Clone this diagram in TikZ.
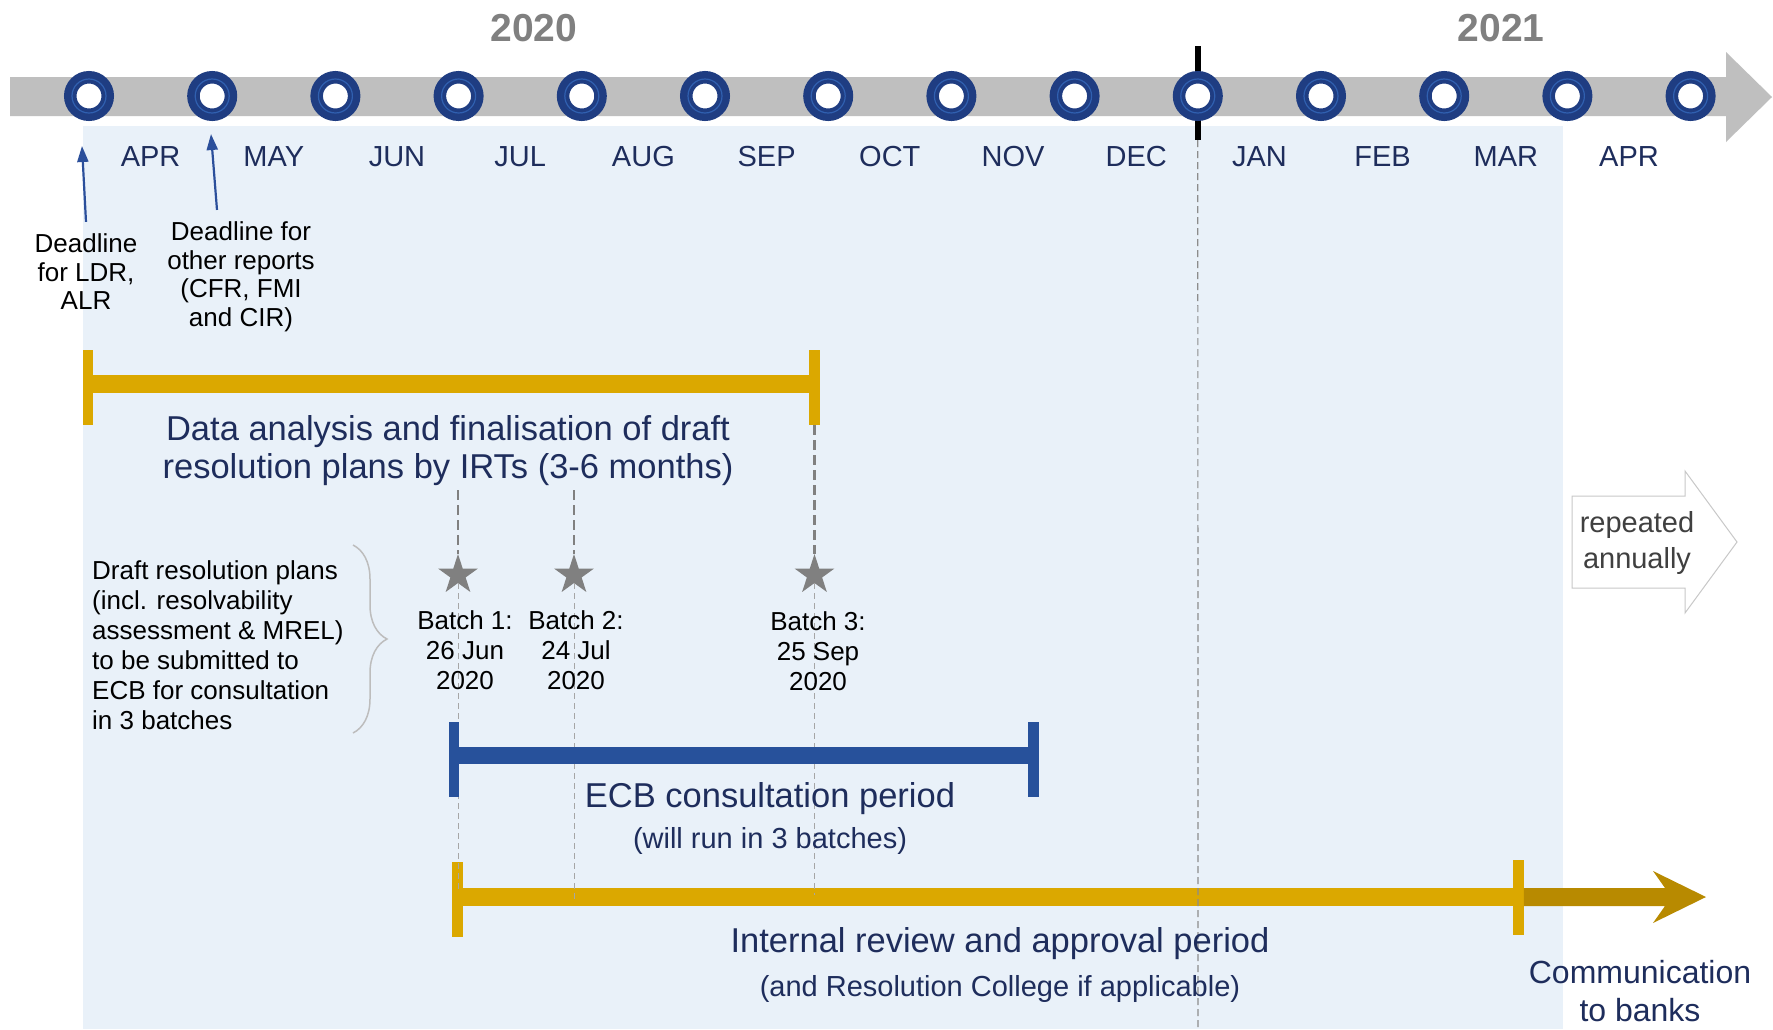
\documentclass[tikz,border=0pt]{standalone}
\usepackage{fontspec}
\setmainfont{Liberation Sans}
\usetikzlibrary{shapes.geometric,arrows.meta,decorations.pathreplacing}
\definecolor{barGray}{HTML}{BFBFBF}
\definecolor{ringBlue}{HTML}{1F3D82}
\definecolor{ringLight}{HTML}{3060B0}
\definecolor{bgBlue}{HTML}{E9F1F9}
\definecolor{goldA}{HTML}{DBA800}
\definecolor{goldB}{HTML}{B88A00}
\definecolor{barBlue}{HTML}{27519B}
\definecolor{navy}{HTML}{1E2D5C}
\definecolor{yearGray}{HTML}{808080}
\definecolor{starGray}{HTML}{808080}
\definecolor{thinGray}{HTML}{A6A6A6}
\definecolor{decGray}{HTML}{8C8C8C}
\definecolor{arrowBlue}{HTML}{2B4F9B}
\definecolor{textGray}{HTML}{404040}
\definecolor{outlineGray}{HTML}{C8C8C8}
\definecolor{braceGray}{HTML}{BDBDBD}
\begin{document}
\begin{tikzpicture}[x=1pt,y=-1pt,
  month/.style={font=\fontsize{29}{34}\selectfont, text=navy, inner sep=0pt},
  yearlbl/.style={font=\fontsize{39}{44}\selectfont\bfseries, text=yearGray, inner sep=0pt},
  note/.style={font=\fontsize{26}{28.5}\selectfont, align=center, inner sep=0pt},
  leftnote/.style={font=\fontsize{26}{30}\selectfont, align=left, inner sep=0pt, anchor=west},
  bigtitle/.style={font=\fontsize{34.5}{38}\selectfont, text=navy, align=center, inner sep=0pt},
  subtitle/.style={font=\fontsize{29}{34}\selectfont, text=navy, inner sep=0pt},
  batchlbl/.style={font=\fontsize{26}{30}\selectfont, align=center, inner sep=0pt},
  commlbl/.style={font=\fontsize{32}{38}\selectfont, text=navy, align=center, inner sep=0pt},
  replbl/.style={font=\fontsize{29}{36}\selectfont, text=textGray, align=center, inner sep=0pt},
  ring/.style={circle, fill=white, draw=ringBlue, line width=12.5pt, minimum size=37.5pt, inner sep=0pt, outer sep=0pt},
  goldtick/.style={rectangle, fill=goldA, minimum width=10.5pt, minimum height=75pt, inner sep=0pt, outer sep=0pt},
  bluetick/.style={rectangle, fill=barBlue, minimum width=10.5pt, minimum height=75pt, inner sep=0pt, outer sep=0pt},
  goldbar/.style={draw=goldA, line width=18pt},
  bluebar/.style={draw=barBlue, line width=17pt},
  dlarrow/.style={draw=arrowBlue, line width=2.2pt, -{Triangle[length=16pt,width=11pt]}},
  dashthick/.style={draw=starGray, line width=2.5pt, dash pattern=on 10pt off 5pt},
  dashthin/.style={draw=thinGray, line width=1pt, dash pattern=on 6pt off 4pt},
  decdash/.style={draw=decGray, line width=1.2pt, dash pattern=on 7pt off 4pt},
  batchstar/.style={star, star points=5, star point ratio=2.618, fill=starGray, minimum size=42pt, inner sep=0pt, outer sep=0pt},
]
\useasboundingbox (0,0) rectangle (1773,1029);
\fill[white] (0,0) rectangle (1773,1029);
\fill[bgBlue] (83,126) rectangle (1563,1029);

% timeline bar
\fill[barGray] (10,77) -- (1726,77) -- (1726,52) -- (1772,97) -- (1726,142) -- (1726,116) -- (10,116) -- cycle;
\draw[black, line width=6pt] (1198,46) -- (1198,140);
\foreach \k in {0,...,13} {
  \node[ring] (c\k) at ({89+123.2*\k},96) {};
  \draw[ringLight, line width=1.2pt] (c\k.center) circle[radius=17pt];
}
\foreach \m [count=\i from 0] in {APR,MAY,JUN,JUL,AUG,SEP,OCT,NOV,DEC,JAN,FEB,MAR,APR} {
  \node[month] (mo\i) at ({150.6+123.2*\i},157) {\m};
}
\node[yearlbl] (y2020) at (534,28) {2020};
\node[yearlbl] (y2021) at (1501,28) {2021};

% deadlines
\node[note] (dl1) at (86,272) {Deadline\\for LDR,\\ALR};
\node[note] (dl2) at (241,277) {Deadline for\\other reports\\(CFR, FMI\\and CIR)};
\coordinate (dl1tip) at (82,146);
\coordinate (dl2tip) at (211,134);
\draw[dlarrow] ([yshift=12pt]dl1.north) -- (dl1tip);
\draw[dlarrow] ([xshift=-24pt,yshift=12pt]dl2.north) -- (dl2tip);

% data analysis bar
\node[goldtick] (g1l) at (88,387.5) {};
\node[goldtick] (g1r) at (814.5,387.5) {};
\draw[goldbar] (g1l.east |- 0,384) -- (g1r.west |- 0,384);
\node[bigtitle] (t1) at (448,451) {Data analysis and finalisation of draft\\resolution plans by IRTs (3-6 months)};

% batches
\node[batchstar] (s1) at (458,575) {};
\node[batchstar] (s2) at (574,575) {};
\node[batchstar] (s3) at (814.5,575) {};
\coordinate (b1top) at (458,490);
\coordinate (b2top) at (574,490);
\draw[dashthick] (b1top) -- (s1.north);
\draw[dashthick] (b2top) -- (s2.north);
\draw[dashthick] (g1r.south) -- (s3.north);

% internal review bar
\node[goldtick] (g2l) at (457.5,899.5) {};
\node[goldtick] (g2r) at (1518.5,897.5) {};
\draw[goldbar] (g2l.east |- 0,897) -- (g2r.west |- 0,897);
\fill[goldB] (g2r.east |- 0,888) -- (1665,888) -- (1653,871) -- (1706,897) -- (1653,923) -- (1665,906) -- (g2r.east |- 0,906) -- cycle;

% thin dashed guides
\coordinate (b1bot) at (458,890);
\coordinate (b2bot) at (574,900);
\coordinate (b3bot) at (814.5,895);
\draw[dashthin] (s1.south) -- (b1bot);
\draw[dashthin] (s2.south) -- (b2bot);
\draw[dashthin] (s3.south) -- (b3bot);
\coordinate (decbot) at (1198,1029);
\draw[decdash] (c9.south |- 0,140) -- (decbot);

% ECB bar
\node[bluetick] (bl) at (454,759.5) {};
\node[bluetick] (br) at (1033.5,759.5) {};
\draw[bluebar] (bl.east |- 0,755) -- (br.west |- 0,755);

% texts
\node[batchlbl] (bt1) at (465,650) {Batch 1:\\26 Jun\\2020};
\node[batchlbl] (bt2) at (576,650) {Batch 2:\\24 Jul\\2020};
\node[batchlbl] (bt3) at (818,651) {Batch 3:\\25 Sep\\2020};
\node[leftnote] (drafts) at (92,645) {Draft resolution plans\\(incl. resolvability\\assessment \& MREL)\\to be submitted to\\ECB for consultation\\in 3 batches};
\draw[braceGray, line width=1.5pt, decorate, decoration={brace, amplitude=34pt, aspect=0.5}] (353,545) -- (353,733);

\node[bigtitle] (t2) at (770,799) {ECB consultation period};
\node[subtitle] (t2s) at (770,841) {(will run in 3 batches)};
\node[bigtitle] (t3) at (1000,944) {Internal review and approval period};
\node[subtitle] (t3s) at (1000,989) {(and Resolution College if applicable)};
\node[commlbl] (comm) at (1640,991) {Communication\\to banks};

% repeated annually
\filldraw[fill=white, draw=outlineGray, line width=1pt] (1572,496) -- (1685,496) -- (1685,471) -- (1737,542) -- (1685,613) -- (1685,588) -- (1572,588) -- cycle;
\node[replbl] (rep) at (1637,543) {repeated\\annually};
\end{tikzpicture}
\end{document}
